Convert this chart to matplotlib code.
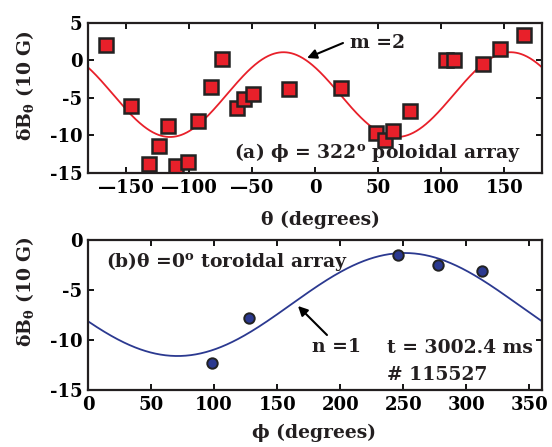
import numpy as np
import matplotlib
matplotlib.use("Agg")
import matplotlib.pyplot as plt

# ---- data: panel (a) poloidal array ----
theta_pts = [-166, -146, -132, -124, -116.5, -110, -101, -92.6, -82.8, -74,
             -62, -56, -49, -21, 21, 48, 55.6, 62, 75, 104, 110.6, 133, 147, 166]
dB_pol = [2.1, -6.1, -13.8, -11.4, -8.7, -14.1, -13.5, -8.1, -3.6, 0.15,
          -6.4, -5.2, -4.5, -3.85, -3.7, -9.7, -10.6, -9.45, -6.7, 0.1, 0.0, -0.5, 1.5, 3.35]
# m=2 fit parameters
m_mode = 2
m_amp = 5.65
m_phase = -25.0
m_off = -4.55

# ---- data: panel (b) toroidal array ----
phi_pts = [98.2, 127.8, 246, 277.4, 312.3]
dB_tor = [-12.3, -7.75, -1.55, -2.5, -3.15]
# n=1 fit parameters
n_mode = 1
n_amp = 5.15
n_phase = 251.0
n_off = -6.45

top_xticks = [-150, -100, -50, 0, 50, 100, 150]
top_xticklabels = ["\u2014150", "\u2014100", "\u201450", "0", "50", "100", "150"]
top_yticks = [5, 0, -5, -10, -15]
top_yticklabels = ["5", "0", "-5", "-10", "-15"]
bot_xticks = [0, 50, 100, 150, 200, 250, 300, 350]
bot_xticklabels = ["0", "50", "100", "150", "200", "250", "300", "350"]
bot_yticks = [0, -5, -10, -15]
bot_yticklabels = ["0", "-5", "-10", "-15"]

plt.rcParams['font.family'] = ['DejaVu Serif']
plt.rcParams['font.weight'] = 'bold'
plt.rcParams['mathtext.fontset'] = 'custom'
plt.rcParams['mathtext.rm'] = 'DejaVu Serif:bold'
plt.rcParams['mathtext.it'] = 'DejaVu Serif:bold'
plt.rcParams['mathtext.bf'] = 'DejaVu Serif:bold'

fig = plt.figure(figsize=(5.52, 4.47), dpi=100)
ax1 = fig.add_axes([0.1594, 0.6130, 0.8225, 0.3356])
ax2 = fig.add_axes([0.1594, 0.1275, 0.8225, 0.3356])

red = '#e8202a'
blue = '#2b3990'
tickfs = 13
labfs = 13.5
textc = '#231f20'

# panel (a)
th = np.linspace(-180, 180, 721)
ax1.plot(th, m_off + m_amp * np.cos(np.deg2rad(m_mode * (th - m_phase))), color=red, lw=1.3)
ax1.plot(theta_pts, dB_pol, ls='none', marker='s', ms=9.5, mfc=red, mec='#222222', mew=1.8)
ax1.set_xlim(-180, 180)
ax1.set_ylim(-15, 5)
ax1.set_xticks(top_xticks)
ax1.set_xticklabels(top_xticklabels)
ax1.set_yticks(top_yticks)
ax1.set_yticklabels(top_yticklabels)
ax1.set_xlabel("\u03b8 (degrees)", fontsize=labfs, fontweight='bold', color=textc)
ax1.set_ylabel(r"$\delta$B$_\theta$ (10 G)", fontsize=labfs, fontweight='bold', color=textc)
ax1.xaxis.set_label_coords(0.513, -0.313)
ax1.xaxis.label.set_va('center')
ax1.yaxis.set_label_coords(-0.139, 0.58)
ax1.yaxis.label.set_va('center')
ax1.annotate("", xy=(-6.3, 0.33), xytext=(22.2, 2.33),
             arrowprops=dict(arrowstyle='-|>', color='black', lw=1.5, mutation_scale=14,
                             shrinkA=0, shrinkB=0))
ax1.text(27.8, 2.33, "m =2", fontsize=labfs, fontweight='bold', color=textc, ha='left', va='center')
ax1.text(49.6, -12.3, "(a) \u03d5 = 322$^{\\mathrm{o}}$ poloidal array",
         fontsize=labfs, fontweight='bold', color=textc, ha='center', va='center')

# panel (b)
ph = np.linspace(0, 360, 721)
ax2.plot(ph, n_off + n_amp * np.cos(np.deg2rad(n_mode * (ph - n_phase))), color=blue, lw=1.3)
ax2.plot(phi_pts, dB_tor, ls='none', marker='o', ms=7.5, mfc=blue, mec='#222222', mew=1.4)
ax2.set_xlim(0, 360)
ax2.set_ylim(-15, 0)
ax2.set_xticks(bot_xticks)
ax2.set_xticklabels(bot_xticklabels)
ax2.set_yticks(bot_yticks)
ax2.set_yticklabels(bot_yticklabels)
ax2.set_xlabel("\u03d5 (degrees)", fontsize=labfs, fontweight='bold', color=textc)
ax2.set_ylabel(r"$\delta$B$_\theta$ (10 G)", fontsize=labfs, fontweight='bold', color=textc)
ax2.xaxis.set_label_coords(0.498, -0.287)
ax2.xaxis.label.set_va('center')
ax2.yaxis.set_label_coords(-0.139, 0.653)
ax2.yaxis.label.set_va('center')
ax2.text(14.3, -2.2, "(b)\u03b8 =0$^{\\mathrm{o}}$ toroidal array",
         fontsize=labfs, fontweight='bold', color=textc, ha='left', va='center')
ax2.annotate("", xy=(166.5, -6.6), xytext=(189.5, -9.5),
             arrowprops=dict(arrowstyle='-|>', color='black', lw=1.5, mutation_scale=14,
                             shrinkA=0, shrinkB=0))
ax2.text(177.6, -10.7, "n =1", fontsize=labfs, fontweight='bold', color=textc, ha='left', va='center')
ax2.text(237.1, -10.8, "t = 3002.4 ms", fontsize=labfs, fontweight='bold', color=textc,
         ha='left', va='center')
ax2.text(237.1, -13.5, "# 115527", fontsize=labfs, fontweight='bold', color=textc,
         ha='left', va='center')

for ax in (ax1, ax2):
    for s in ax.spines.values():
        s.set_linewidth(1.6)
        s.set_color('#231f20')
    ax.tick_params(direction='in', top=True, right=True, length=4, width=1.3,
                   labelsize=tickfs, pad=4, colors='black')
    for lab in ax.get_xticklabels() + ax.get_yticklabels():
        lab.set_fontweight('bold')

fig.savefig("out.png", dpi=100)
